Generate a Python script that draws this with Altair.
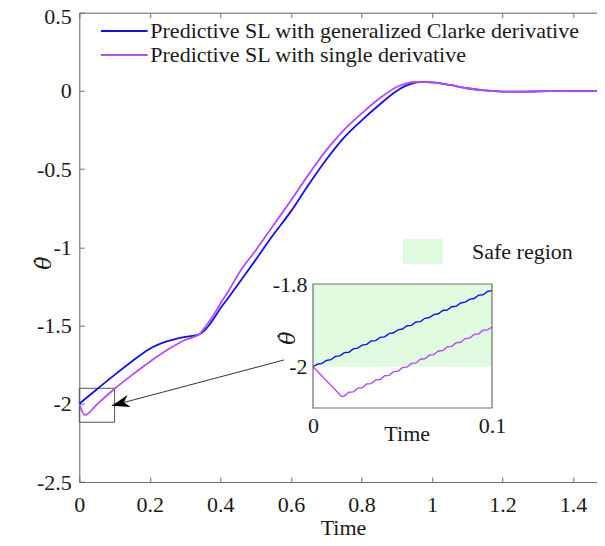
import altair as alt
import pandas as pd

# ---------------- data ----------------
blue_name = "Predictive SL with generalized Clarke derivative"
purple_name = "Predictive SL with single derivative"

t_blue = [0, 0.05, 0.1, 0.15, 0.2, 0.25, 0.3, 0.34, 0.36, 0.38, 0.4, 0.42, 0.46, 0.5,
          0.55, 0.6, 0.65, 0.7, 0.75, 0.8, 0.85, 0.9, 0.925, 0.95, 0.975, 1.0, 1.05,
          1.1, 1.15, 1.2, 1.25, 1.3, 1.35, 1.4, 1.45, 1.5]
v_blue = [-2.0, -1.907, -1.815, -1.728, -1.648, -1.600, -1.572, -1.556, -1.52, -1.46,
          -1.39, -1.33, -1.205, -1.08, -0.92, -0.77, -0.60, -0.44, -0.30, -0.19, -0.09,
          0.0, 0.032, 0.052, 0.058, 0.054, 0.038, 0.017, 0.003, -0.004, -0.005, -0.003,
          -0.001, 0.0, 0.0, 0.0]

t_purple = [0, 0.016, 0.05, 0.1, 0.15, 0.2, 0.25, 0.3, 0.34, 0.36, 0.38, 0.4, 0.42, 0.46,
            0.5, 0.55, 0.6, 0.65, 0.7, 0.75, 0.8, 0.85, 0.9, 0.925, 0.95, 0.975, 1.0,
            1.05, 1.1, 1.15, 1.2, 1.25, 1.3, 1.35, 1.4, 1.45, 1.5]
v_purple = [-2.0, -2.072, -2.004, -1.904, -1.815, -1.731, -1.655, -1.592, -1.556, -1.50,
            -1.435, -1.36, -1.29, -1.14, -1.02, -0.86, -0.70, -0.535, -0.38, -0.25,
            -0.145, -0.05, 0.025, 0.047, 0.057, 0.058, 0.054, 0.038, 0.017, 0.003,
            -0.004, -0.005, -0.003, -0.001, 0.0, 0.0, 0.0]

# inset (zoom 0..0.1 s)
ti_blue = [0, 0.0025, 0.005, 0.0075, 0.01, 0.0125, 0.015, 0.0175, 0.02, 0.0225, 0.025,
           0.0275, 0.03, 0.0325, 0.035, 0.0375, 0.04, 0.0425, 0.045, 0.0475, 0.05,
           0.0525, 0.055, 0.0575, 0.06, 0.0625, 0.065, 0.0675, 0.07, 0.0725, 0.075,
           0.0775, 0.08, 0.0825, 0.085, 0.0875, 0.09, 0.0925, 0.095, 0.0975, 0.1]
vi_blue = [-2.000, -1.994, -1.992, -1.985, -1.983, -1.975, -1.974, -1.966, -1.965, -1.957,
           -1.955, -1.948, -1.946, -1.938, -1.937, -1.929, -1.928, -1.920, -1.918, -1.911,
           -1.909, -1.901, -1.900, -1.892, -1.891, -1.883, -1.881, -1.874, -1.872, -1.864,
           -1.863, -1.855, -1.854, -1.846, -1.844, -1.837, -1.835, -1.827, -1.826, -1.818,
           -1.816]
ti_purple = [0, 0.016, 0.0175, 0.02, 0.0225, 0.025, 0.0275, 0.03, 0.0325, 0.035, 0.0375,
             0.04, 0.0425, 0.045, 0.0475, 0.05, 0.0525, 0.055, 0.0575, 0.06, 0.0625,
             0.065, 0.0675, 0.07, 0.0725, 0.075, 0.0775, 0.08, 0.0825, 0.085, 0.0875,
             0.09, 0.0925, 0.095, 0.0975, 0.1]
vi_purple = [-2.0, -2.072, -2.071, -2.062, -2.061, -2.052, -2.051, -2.042, -2.041, -2.032,
             -2.031, -2.022, -2.021, -2.012, -2.011, -2.002, -2.001, -1.992, -1.991,
             -1.982, -1.981, -1.972, -1.971, -1.962, -1.961, -1.952, -1.951, -1.942,
             -1.941, -1.932, -1.931, -1.922, -1.921, -1.912, -1.911, -1.904]

x_ticks = [0, 0.2, 0.4, 0.6, 0.8, 1, 1.2, 1.4]
y_ticks = [0.5, 0, -0.5, -1, -1.5, -2, -2.5]
y_ticks_lower = [0, -0.5, -1, -1.5, -2, -2.5]
y_tick_top = [0.5]
inset_x_ticks = [0, 0.1]
inset_y_ticks = [-2, -1.8]

zoom_box = {"x1": [0], "x2": [0.1], "y1": [-2.118], "y2": [-1.901]}
arrow = {"x1": [0.5806], "y1": [-1.720], "x2": [0.092], "y2": [-2.012]}
inset_frame = {"x1": [0], "x2": [0.1], "y1": [-2.1], "y2": [-1.8]}
safe = {"x1": [0], "x2": [0.1], "y1": [-2.0], "y2": [-1.8], "region": ["Safe region"]}

# ---------------- style ----------------
FONT = "Times New Roman, Liberation Serif, serif"
MATHFONT = "DejaVu Serif"
BLUE = "#1010f2"
PURPLE = "#b44cf8"
GREEN = "#e0fae0"
GRAY = "#6e6e6e"
TXT = "#1a1a1a"
PAD_L, PAD_T, PAD_B = 71.3, 4.7, 56
W, H = 517.7, 469.3          # plot area; the reference plot runs past the right edge
XMAX = 1.468
FS = 22
lab = "'' + datum.value"
THETA_DOT = "\u03b8\u0307"

df_main = pd.concat([
    pd.DataFrame({"t": t_blue, "v": v_blue, "series": blue_name}),
    pd.DataFrame({"t": t_purple, "v": v_purple, "series": purple_name}),
])
df_ib = pd.DataFrame({"t": ti_blue, "v": vi_blue})
df_ip = pd.DataFrame({"t": ti_purple, "v": vi_purple})


def xs():
    return alt.Scale(domain=[0, XMAX], nice=False, zero=False)


def ys():
    return alt.Scale(domain=[-2.5, 0.5], nice=False, zero=False)


def ixs():
    return alt.Scale(domain=[0, 0.1], range=[233.7, 412.7], nice=False, zero=False)


def iys():
    return alt.Scale(domain=[-2.1, -1.8], range=[395.3, 271.3], nice=False, zero=False)


def tick_axis(orient, values):
    return alt.Axis(orient=orient, values=values, labels=False, domain=False, grid=False,
                    ticks=True, tickSize=5, tickColor=GRAY, tickWidth=1, offset=-5,
                    title=None)


common_lab = dict(labelExpr=lab, ticks=False, tickSize=0, grid=False, labelFlush=False,
                  labelFont=FONT, labelFontSize=FS, labelColor=TXT, labelOverlap=False,
                  labelFontWeight="normal")

box = alt.Chart(pd.DataFrame(zoom_box)).mark_rect(fill="transparent", stroke="#555555",
                                                  strokeWidth=1).encode(
    x=alt.X("x1:Q", scale=xs(), axis=tick_axis("bottom", x_ticks)),
    x2="x2:Q",
    y=alt.Y("y1:Q", scale=ys(), axis=tick_axis("left", y_ticks)),
    y2="y2:Q",
)

# carries the top inward ticks and the "0.5" label (nudged down so it is not cut)
arrow_line = alt.Chart(pd.DataFrame(arrow)).mark_rule(color="black", strokeWidth=0.8).encode(
    x=alt.X("x1:Q", scale=xs(), axis=tick_axis("top", x_ticks)),
    x2="x2:Q",
    y=alt.Y("y1:Q", scale=ys(), axis=alt.Axis(
        orient="left", values=y_tick_top, title=None, domain=False, labelPadding=8,
        labelOffset=3.5, **common_lab)),
    y2="y2:Q",
)

arrow_head = alt.Chart(pd.DataFrame(arrow)).mark_point(
    shape="M0,0L-2,-0.7L-1.4,0L-2,0.7Z", size=324, filled=True, color="black",
    opacity=1, angle=165).encode(
    x=alt.X("x2:Q", scale=xs(), axis=alt.Axis(
        orient="top", labels=False, ticks=False, grid=False, domain=True,
        domainColor=GRAY, domainWidth=1, title=None)),
    y=alt.Y("y2:Q", scale=ys(), axis=None),
)

lines = alt.Chart(df_main).mark_line(strokeWidth=1.8, interpolate="monotone", clip=True).encode(
    x=alt.X("t:Q", scale=xs(), axis=alt.Axis(
        orient="bottom", values=x_ticks, title="Time", domain=True, domainColor=GRAY,
        domainWidth=1, labelPadding=12.5, titleFont=FONT, titleFontSize=FS,
        titleColor=TXT, titleFontWeight="normal", titleX=263.7, titleY=52,
        titleAlign="center", titleBaseline="alphabetic", **common_lab)),
    y=alt.Y("v:Q", scale=ys(), axis=alt.Axis(
        orient="left", values=y_ticks_lower, title=THETA_DOT, domain=True,
        domainColor=GRAY, domainWidth=1, labelPadding=8, titleFont=MATHFONT,
        titleFontSize=22, titleColor=TXT, titleFontWeight="normal",
        titleFontStyle="italic", titleX=-36, titleY=250, titleAngle=270,
        titleAlign="center", titleBaseline="middle", **common_lab)),
    color=alt.Color("series:N", scale=alt.Scale(domain=[blue_name, purple_name],
                                                range=[BLUE, PURPLE]),
                    legend=alt.Legend(orient="none", legendX=34, legendY=7.3, title=None,
                                      symbolType="M-2.33,0H2.33", symbolSize=400,
                                      symbolStrokeWidth=2, labelOffset=15, rowPadding=2,
                                      padding=0, labelFont=FONT, labelFontSize=FS,
                                      labelColor=TXT, labelLimit=0)),
)

# ---------------- inset ----------------
inset_bg = alt.Chart(pd.DataFrame(inset_frame)).mark_rect(fill="white").encode(
    x=alt.X("x1:Q", scale=ixs(), axis=None), x2="x2:Q",
    y=alt.Y("y1:Q", scale=iys(), axis=None), y2="y2:Q",
)
safe_rect = alt.Chart(pd.DataFrame(safe)).mark_rect().encode(
    x=alt.X("x1:Q", scale=ixs(), axis=None), x2="x2:Q",
    y=alt.Y("y1:Q", scale=iys(), axis=None), y2="y2:Q",
    fill=alt.Fill("region:N", scale=alt.Scale(range=[GREEN]),
                  legend=alt.Legend(orient="none", legendX=323.7, legendY=218.8,
                                    title=None, symbolType="M-1,-0.625H1V0.625H-1Z",
                                    symbolSize=1600, symbolStrokeWidth=0, labelOffset=29,
                                    padding=0, labelFont=FONT, labelFontSize=FS,
                                    labelColor=TXT, labelLimit=0)),
)
ib = alt.Chart(df_ib).mark_line(color=BLUE, strokeWidth=1.4).encode(
    x=alt.X("t:Q", scale=ixs(), axis=None), y=alt.Y("v:Q", scale=iys(), axis=None))
ip = alt.Chart(df_ip).mark_line(color=PURPLE, strokeWidth=1.4).encode(
    x=alt.X("t:Q", scale=ixs(), axis=None), y=alt.Y("v:Q", scale=iys(), axis=None))
frame = alt.Chart(pd.DataFrame(inset_frame)).mark_rect(fill="transparent", stroke=GRAY,
                                                      strokeWidth=1.2).encode(
    x=alt.X("x1:Q", scale=ixs(), axis=alt.Axis(
        orient="bottom", offset=-74, values=inset_x_ticks, title="Time", domain=False,
        labelPadding=7.5, titleFont=FONT, titleFontSize=FS, titleColor=TXT,
        titleFontWeight="normal", titleX=327.4, titleY=32, titleAlign="center",
        titleBaseline="alphabetic", **common_lab)),
    x2="x2:Q",
    y=alt.Y("y1:Q", scale=iys(), axis=alt.Axis(
        orient="left", offset=-233.7, values=inset_y_ticks, title=THETA_DOT,
        domain=False, labelPadding=6, titleFont=MATHFONT, titleFontSize=22,
        titleColor=TXT, titleFontWeight="normal", titleFontStyle="italic",
        titleX=-26, titleY=325, titleAngle=270, titleAlign="center",
        titleBaseline="middle", **common_lab)),
    y2="y2:Q",
)

chart = alt.layer(
    box, arrow_line, arrow_head, lines, inset_bg, safe_rect, ib, ip, frame
).resolve_scale(x="independent", y="independent").properties(
    width=W, height=H,
    padding={"left": PAD_L, "top": PAD_T, "right": 0, "bottom": PAD_B},
    autosize=alt.AutoSizeParams(type="none"),
).configure_view(stroke="transparent").configure(font=FONT)

chart.save("out.html", embed_options={"renderer": "svg", "actions": False})
